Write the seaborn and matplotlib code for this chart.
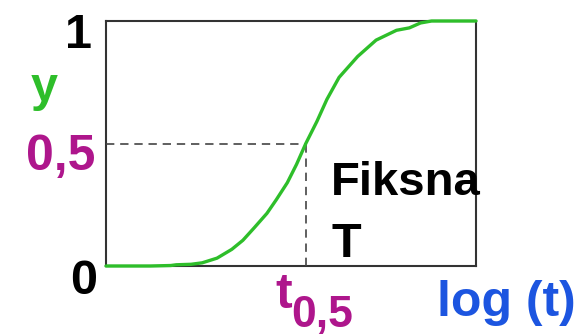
import matplotlib
matplotlib.use("Agg")
import matplotlib.pyplot as plt
import seaborn as sns
import pandas as pd

# Sigmoid response y against log(t)
log_t = [0.0, 1.2, 1.75, 1.9, 2.3, 2.6, 3.0, 3.4, 3.7, 4.0, 4.35, 4.6, 4.9,
         5.15, 5.4, 5.7, 5.97, 6.3, 6.8, 7.3, 7.85, 8.2, 8.5, 8.8, 10.0]
y_val = [0.0, 0.0, 0.002, 0.005, 0.007, 0.013, 0.032, 0.068, 0.105, 0.155,
         0.215, 0.27, 0.34, 0.415, 0.5, 0.59, 0.68, 0.77, 0.855, 0.922,
         0.962, 0.972, 0.992, 1.0, 1.0]

t_half = 5.4
y_half = 0.5

GREEN = "#2EBE2A"
MAGENTA = "#AE168C"
BLUE = "#1C55E0"

sns.set_style("white")
plt.rcParams["font.family"] = ["Liberation Sans", "DejaVu Sans"]

W, H = 582, 335
fig = plt.figure(figsize=(W / 100, H / 100), dpi=100)
ax = fig.add_axes([106 / W, 1 - 266 / H, 370 / W, 245 / H])

df = pd.DataFrame({"log_t": log_t, "y": y_val})
sns.lineplot(data=df, x="log_t", y="y", ax=ax, color=GREEN, linewidth=2.4,
             sort=False, estimator=None, clip_on=False, zorder=5)

# Guide lines to the half-response point
dash = dict(color="#444444", linewidth=1.2, dashes=(5, 3.5), zorder=3)
ax.plot([0, t_half], [y_half, y_half], **dash)
ax.plot([t_half, t_half], [0, y_half], **dash)

ax.set_xlim(0, 10)
ax.set_ylim(0, 1)
ax.set_xticks([])
ax.set_yticks([])
ax.set_xlabel("")
ax.set_ylabel("")
for s in ax.spines.values():
    s.set_visible(True)
    s.set_color("#333333")
    s.set_linewidth(1.5)


def px_text(x, y, s, size, color="black", ha="center", weight="bold"):
    fig.text(x / W, 1 - y / H, s, fontsize=size, color=color, ha=ha,
             va="baseline", fontweight=weight)


px_text(79, 48, "1", 35)
px_text(84, 294, "0", 35)
px_text(44, 101, "y", 35, color=GREEN)
px_text(61, 170, "0,5", 36, color=MAGENTA)
px_text(331, 195, "Fiksna", 34, ha="left")
px_text(331, 257, "T", 35, ha="left")
px_text(284, 308, "t", 36, color=MAGENTA)
px_text(322, 327, "0,5", 32, color=MAGENTA)
px_text(506, 316, "log (t)", 36, color=BLUE)

fig.savefig("out.png", dpi=100, facecolor="white")
